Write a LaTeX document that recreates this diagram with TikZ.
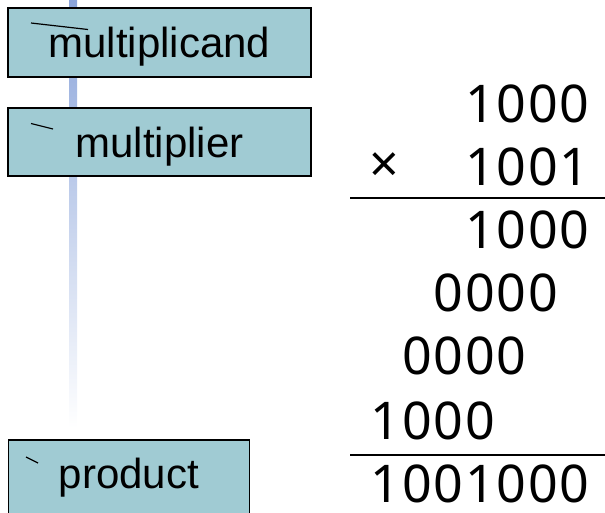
\documentclass[tikz,border=0pt]{standalone}
\usepackage{fontspec}
\setmainfont{Liberation Sans}
\newfontfamily\numfont{Noto Sans}
\newcommand\dgt[1]{\makebox[31.5pt]{#1}}
\definecolor{boxfill}{RGB}{160,203,211}
\definecolor{barblue}{RGB}{138,164,218}
\begin{document}
\begin{tikzpicture}[x=1pt,y=-1pt,
  regbox/.style={draw=black,line width=1.8pt,fill=boxfill,inner sep=0pt,
    font=\fontsize{42}{42}\selectfont},
  numrow/.style={anchor=base east,inner sep=0pt,font=\numfont\fontsize{52}{52}\selectfont},
  rule/.style={line width=1.8pt},
  tick/.style={line width=1.2pt}]
\useasboundingbox (0,0) rectangle (605,512);
\clip (0,0) rectangle (605,512);
% fading vertical bar
\shade[top color=barblue,bottom color=white] (69,0) rectangle (77,428);
% registers
\node[regbox,minimum width=303pt,minimum height=69pt,text height=32pt,text depth=3pt]
  (mcand) at (159.5,42.5) {multiplicand};
\node[regbox,minimum width=303pt,minimum height=68pt,text height=33pt,text depth=3pt]
  (mplier) at (159.5,142) {multiplier};
\node[regbox,minimum width=241pt,minimum height=80pt,text height=20pt,text depth=4pt]
  (prod) at (129,480) {product};
% small tick marks
\draw[tick] (31,23) -- (88,29.5);
\draw[tick] (31,123.5) -- (53,129);
\draw[tick] (26,457) -- (38,463);
% multiplication
\node[numrow] (r1) at (590.5,122) {\dgt{1}\dgt{0}\dgt{0}\dgt{0}};
\node[inner sep=0pt,font=\numfont\fontsize{52}{52}\selectfont] (times) at (384,167.5) {×};
\node[numrow] (r2) at (590.5,185) {\dgt{1}\dgt{0}\dgt{0}\dgt{1}};
\coordinate (l1a) at (350,198);
\coordinate (l1b) at (605,198);
\draw[rule] (l1a) -- (l1b);
\node[numrow] (r3) at (590.5,248) {\dgt{1}\dgt{0}\dgt{0}\dgt{0}};
\node[numrow] (r4) at (559,311) {\dgt{0}\dgt{0}\dgt{0}\dgt{0}};
\node[numrow] (r5) at (527.5,374) {\dgt{0}\dgt{0}\dgt{0}\dgt{0}};
\node[numrow] (r6) at (496,439) {\dgt{1}\dgt{0}\dgt{0}\dgt{0}};
\coordinate (l2a) at (350,455);
\coordinate (l2b) at (605,455);
\draw[rule] (l2a) -- (l2b);
\node[numrow] (r7) at (590.5,502) {\dgt{1}\dgt{0}\dgt{0}\dgt{1}\dgt{0}\dgt{0}\dgt{0}};
\end{tikzpicture}
\end{document}
